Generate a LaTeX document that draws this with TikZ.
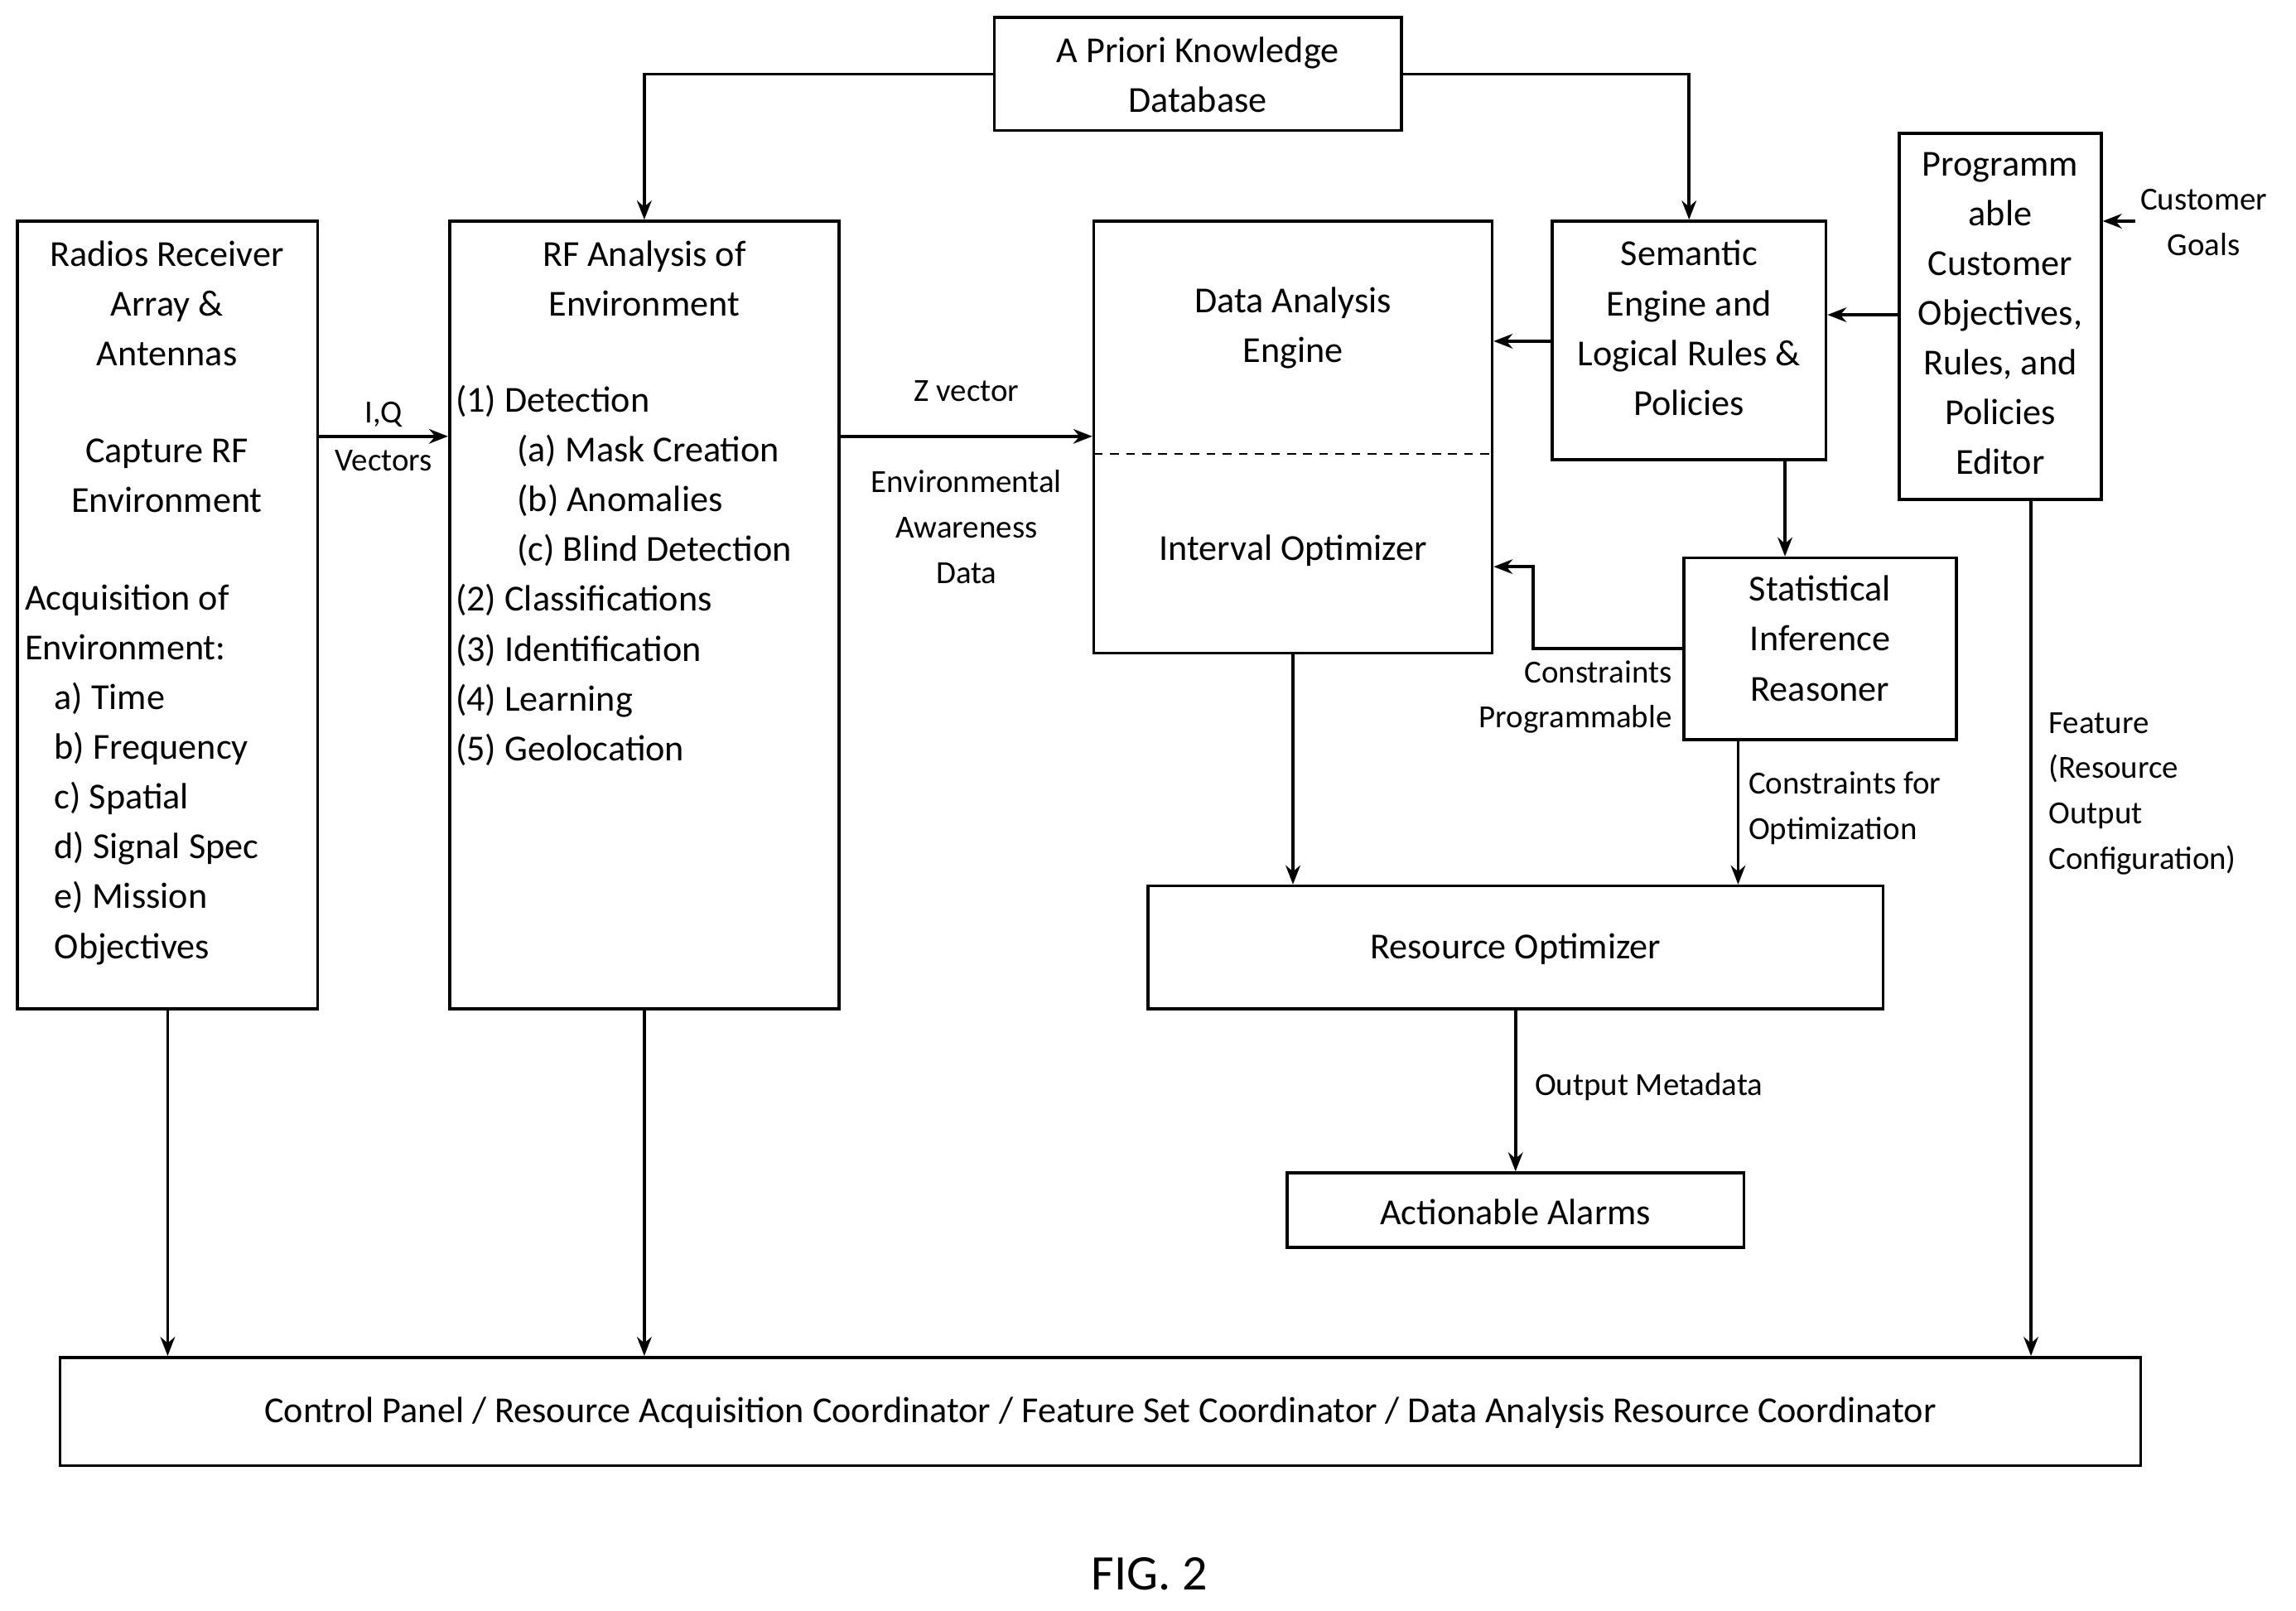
\documentclass[tikz,border=0pt]{standalone}
\usepackage{fontspec}
\setmainfont{Carlito}
\usetikzlibrary{arrows.meta}
\begin{document}
\begin{tikzpicture}[x=1pt,y=-1pt,
  box/.style={draw,line width=2pt,inner sep=0pt},
  txt/.style={font=\fontsize{25}{34}\selectfont,inner sep=0pt,align=center},
  lbl/.style={font=\fontsize{22}{31}\selectfont,inner sep=0pt,align=center},
  arr/.style={line width=2pt,-{Stealth[length=13pt,width=10pt]}}]
\useasboundingbox (0,0) rectangle (1568,1100);
% boxes
\node[box,minimum width=278pt,minimum height=77pt] (apk) at (818,50.5) {};
\node[txt] (apkt) at (818,51) {A Priori Knowledge\\Database};
\node[box,minimum width=205pt,minimum height=538pt] (rad) at (114.5,420) {};
\node[txt] (radt1) at (114,207) {Radios Receiver\\Array \&\\Antennas};
\node[txt] (radt2) at (114,325) {Capture RF\\Environment};
\node[txt,align=left,anchor=west] (radt3) at (17,529) {Acquisition of\\Environment:\\\hspace*{20pt}a) Time\\\hspace*{20pt}b) Frequency\\\hspace*{20pt}c) Spatial\\\hspace*{20pt}d) Signal Spec\\\hspace*{20pt}e) Mission\\\hspace*{20pt}Objectives};
\node[box,minimum width=266pt,minimum height=538pt] (rf) at (440,420) {};
\node[txt] (rft1) at (440,190) {RF Analysis of\\Environment};
\node[txt,align=left,anchor=west] (rft2) at (311,393) {(1) Detection\\\hspace*{42pt}(a) Mask Creation\\\hspace*{42pt}(b) Anomalies\\\hspace*{42pt}(c) Blind Detection\\(2) Classifications\\(3) Identification\\(4) Learning\\(5) Geolocation};
\node[box,minimum width=272pt,minimum height=295pt] (dae) at (883,298.5) {};
\draw[line width=1.5pt,dash pattern=on 6pt off 5pt] (747,310) -- (1019,310);
\node[txt] (daet1) at (883,224) {Data Analysis\\Engine};
\node[txt] (daet2) at (883,376) {Interval Optimizer};
\node[box,minimum width=187pt,minimum height=163pt] (sem) at (1153.5,232.5) {};
\node[txt] (semt) at (1153.5,224) {Semantic\\Engine and\\Logical Rules \&\\Policies};
\node[box,minimum width=138pt,minimum height=250pt] (pro) at (1366,216) {};
\node[txt] (prot) at (1366,214) {Programm\\able\\Customer\\Objectives,\\Rules, and\\Policies\\Editor};
\node[box,minimum width=186pt,minimum height=124pt] (sta) at (1243,443) {};
\node[txt] (stat) at (1243,436) {Statistical\\Inference\\Reasoner};
\node[box,minimum width=502pt,minimum height=84pt] (ro) at (1035,647) {};
\node[txt] (rot) at (1035,648) {Resource Optimizer};
\node[box,minimum width=312pt,minimum height=51pt] (al) at (1035,826.5) {};
\node[txt] (alt) at (1035,828) {Actionable Alarms};
\node[box,minimum width=1421pt,minimum height=74pt] (cp) at (751.5,964) {};
\node[txt] (cpt) at (751.5,965) {Control Panel / Resource Acquisition Coordinator / Feature Set Coordinator / Data Analysis Resource Coordinator};
\node[font=\fontsize{34}{40}\selectfont,inner sep=0pt] (fig) at (785,1075) {FIG. 2};
% labels
\node[lbl] (iq) at (262,298) {I,Q\\[2pt]Vectors};
\node[lbl] (zv) at (660,267) {Z vector};
\node[lbl] (ead) at (660,360) {Environmental\\Awareness\\Data};
\node[lbl] (cg) at (1505,152) {Customer\\Goals};
\node[lbl,align=right,anchor=east] (cpl) at (1142,476) {Constraints\\Programmable};
\node[lbl,align=left,anchor=west] (cfo) at (1194,552) {Constraints for\\Optimization};
\node[lbl,align=left,anchor=west] (om) at (1048,742) {Output Metadata};
\node[lbl,align=left,anchor=west] (feat) at (1399,542) {Feature\\(Resource\\Output\\Configuration)};
% connectors
\coordinate (cgs) at (1458,151);
\draw[arr] (apk.west) -| (rf.north);
\draw[arr] (apk.east) -| (sem.north);
\draw[arr] (rad.east|-0,298) -- (rf.west|-0,298);
\draw[arr] (rf.east|-0,298) -- (dae.west|-0,298);
\draw[arr] (sem.west|-0,233) -- (dae.east|-0,233);
\draw[arr] (pro.west|-0,215) -- (sem.east|-0,215);
\draw[arr] (cgs) -- (pro.east|-cgs);
\draw[arr] (sem.south-|1219,0) -- (sta.north-|1219,0);
\draw[arr] (sta.west|-0,443) -- (1047,443) -- (1047,387) -- (dae.east|-0,387);
\draw[arr] (sta.south-|1187,0) -- (ro.north-|1187,0);
\draw[arr] (dae.south) -- (ro.north-|dae.south);
\draw[arr] (ro.south) -- (al.north);
\draw[arr] (rad.south) -- (cp.north-|rad.south);
\draw[arr] (rf.south) -- (cp.north-|rf.south);
\draw[arr] (pro.south-|1387,0) -- (cp.north-|1387,0);
\end{tikzpicture}
\end{document}
